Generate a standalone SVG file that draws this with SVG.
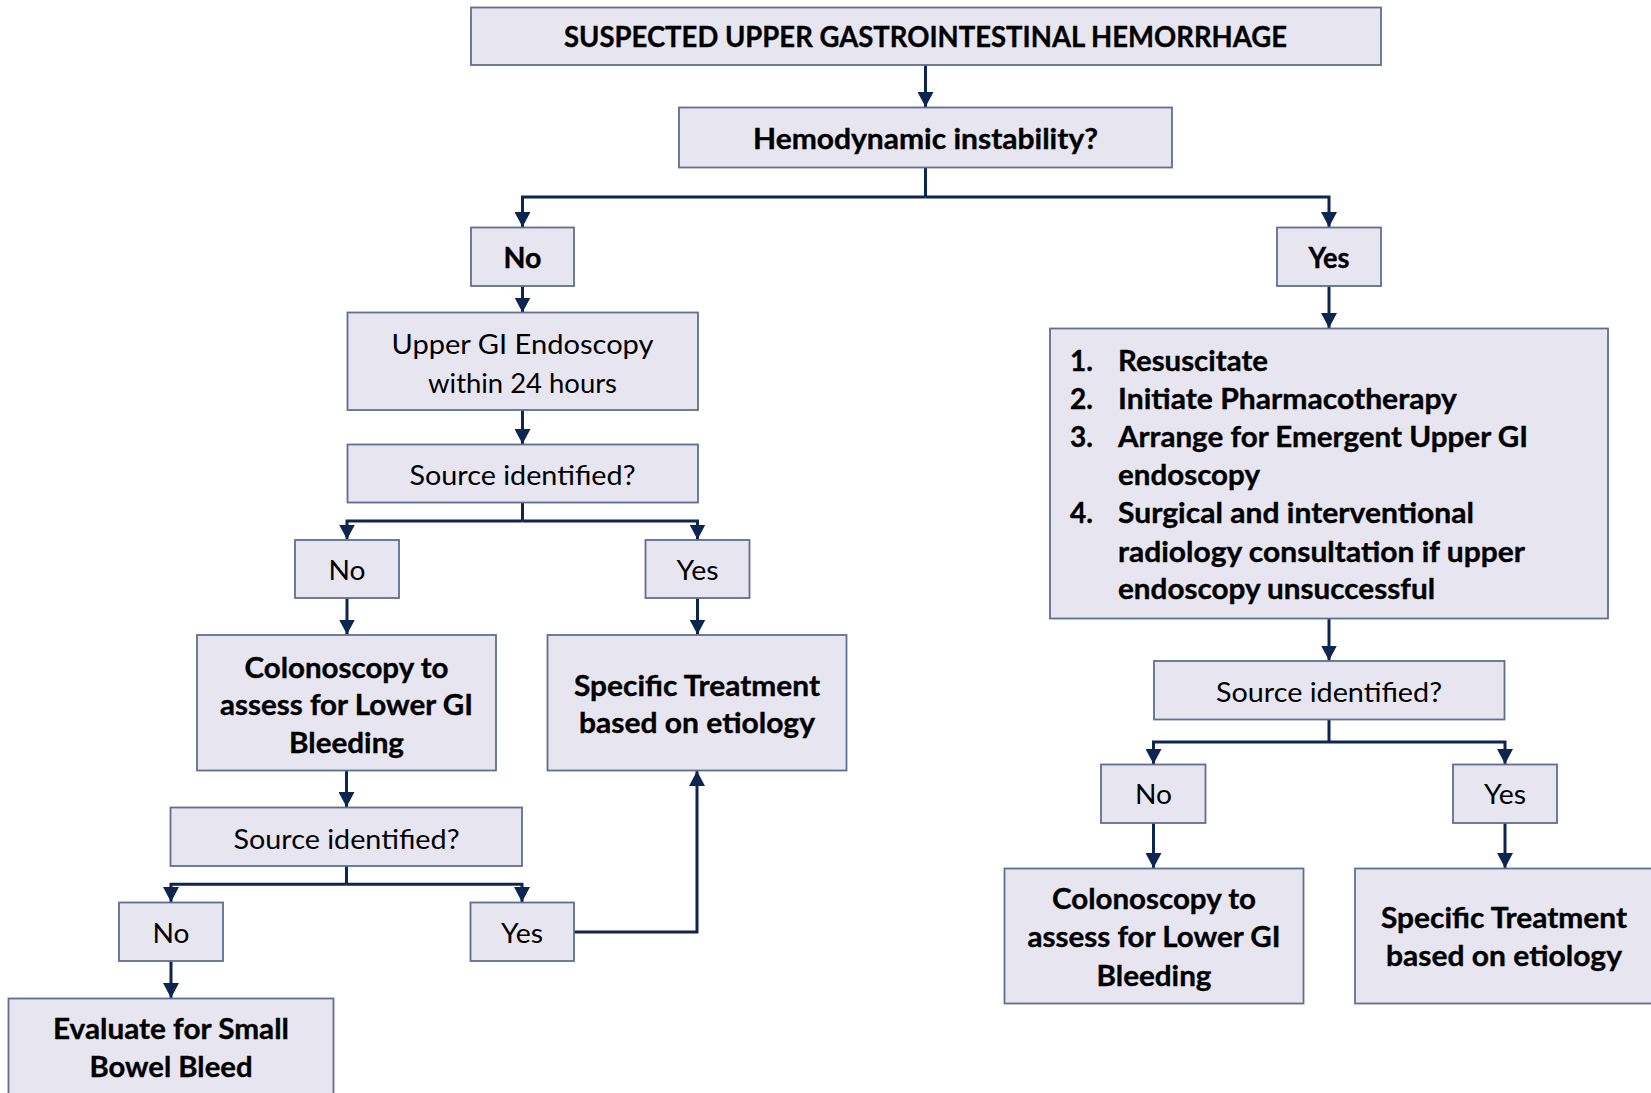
<svg xmlns="http://www.w3.org/2000/svg" width="1651" height="1093" viewBox="0 0 1651 1093">
<defs>
<marker id="ah" viewBox="0 0 15 16" refX="15" refY="8" markerWidth="15" markerHeight="16" markerUnits="userSpaceOnUse" orient="auto">
<path d="M0,0 L15,8 L0,16 z" fill="#0d2550"/>
</marker>
<style>
.box{fill:#e7e5f0;stroke:#5f6f8c;stroke-width:1.8}
.b{font-family:Lato,"Liberation Sans",sans-serif;font-weight:700;font-size:28px;fill:#000;text-anchor:middle;stroke:#000;stroke-width:0.35}
.r{font-family:Lato,"Liberation Sans",sans-serif;font-weight:400;font-size:27px;fill:#000;text-anchor:middle}
.l{font-family:Lato,"Liberation Sans",sans-serif;font-weight:700;font-size:28px;fill:#000;stroke:#000;stroke-width:0.35}
.c{fill:none;stroke:#0d2550;stroke-width:3}
.a{marker-end:url(#ah)}
</style>
</defs>
<rect width="1651" height="1093" fill="#fff"/>
<g id="connectors">
<path class="c a" d="M925.5,65 V107"/>
<path class="c" d="M925.5,168 V197"/>
<path class="c a" d="M925.5,197 H522.5 V227"/>
<path class="c a" d="M925.5,197 H1329 V227"/>
<path class="c a" d="M522.5,286 V312.5"/>
<path class="c a" d="M522.5,410 V444"/>
<path class="c" d="M522.5,502.5 V521"/>
<path class="c a" d="M522.5,521 H347 V539.5"/>
<path class="c a" d="M522.5,521 H697.5 V539.5"/>
<path class="c a" d="M347,598 V634.5"/>
<path class="c a" d="M697.5,598 V634.5"/>
<path class="c a" d="M346.5,770.5 V807"/>
<path class="c" d="M346.5,866 V884.3"/>
<path class="c a" d="M346.5,884.3 H171 V902"/>
<path class="c a" d="M346.5,884.3 H522 V902"/>
<path class="c a" d="M574,932 H697 V771"/>
<path class="c a" d="M171,961 V998"/>
<path class="c a" d="M1329,286 V328"/>
<path class="c a" d="M1329,618.5 V660.5"/>
<path class="c" d="M1329,719.5 V742"/>
<path class="c a" d="M1329,742 H1153.5 V764"/>
<path class="c a" d="M1329,742 H1505 V764"/>
<path class="c a" d="M1153.5,823 V868"/>
<path class="c a" d="M1505,823 V868"/>
</g>
<g id="n-suspected">
<rect class="box" x="471" y="7.5" width="910" height="57.5"/>
<text class="b" x="925.5" y="47" font-size="26" textLength="723" lengthAdjust="spacingAndGlyphs">SUSPECTED UPPER GASTROINTESTINAL HEMORRHAGE</text>
</g>
<g id="n-hemodynamic">
<rect class="box" x="679" y="107.5" width="493" height="60"/>
<text class="b" x="925.5" y="149" textLength="345" lengthAdjust="spacingAndGlyphs">Hemodynamic instability?</text>
</g>
<g id="n-no-top">
<rect class="box" x="471" y="227.5" width="103" height="58.5"/>
<text class="b" x="522.5" y="268" textLength="38" lengthAdjust="spacingAndGlyphs">No</text>
</g>
<g id="n-yes-top">
<rect class="box" x="1277" y="227.5" width="104" height="58.5"/>
<text class="b" x="1329" y="268" textLength="41" lengthAdjust="spacingAndGlyphs">Yes</text>
</g>
<g id="n-upper-gi">
<rect class="box" x="347.5" y="312.5" width="350.5" height="97.5"/>
<text class="r" x="522.5" y="354" textLength="262" lengthAdjust="spacingAndGlyphs">Upper GI Endoscopy</text>
<text class="r" x="522.5" y="393" textLength="189" lengthAdjust="spacingAndGlyphs">within 24 hours</text>
</g>
<g id="n-source1">
<rect class="box" x="347.5" y="444.5" width="350.5" height="58"/>
<text class="r" x="522.5" y="485" textLength="226" lengthAdjust="spacingAndGlyphs">Source identified?</text>
</g>
<g id="n-no1">
<rect class="box" x="295" y="540" width="104" height="58"/>
<text class="r" x="347" y="580" textLength="37" lengthAdjust="spacingAndGlyphs">No</text>
</g>
<g id="n-yes1">
<rect class="box" x="645.5" y="540" width="104" height="58"/>
<text class="r" x="697.5" y="580" textLength="42" lengthAdjust="spacingAndGlyphs">Yes</text>
</g>
<g id="n-colon-left">
<rect class="box" x="197" y="635" width="299" height="135.5"/>
<text class="b" x="346.5" y="678" textLength="204" lengthAdjust="spacingAndGlyphs">Colonoscopy to</text>
<text class="b" x="346.5" y="715" textLength="253" lengthAdjust="spacingAndGlyphs">assess for Lower GI</text>
<text class="b" x="346.5" y="753" textLength="115" lengthAdjust="spacingAndGlyphs">Bleeding</text>
</g>
<g id="n-specific-left">
<rect class="box" x="547.5" y="635" width="299" height="135.5"/>
<text class="b" x="697" y="696" textLength="246" lengthAdjust="spacingAndGlyphs">Specific Treatment</text>
<text class="b" x="697" y="733" textLength="236" lengthAdjust="spacingAndGlyphs">based on etiology</text>
</g>
<g id="n-source2">
<rect class="box" x="170.5" y="807.5" width="351.5" height="58.5"/>
<text class="r" x="346.5" y="849" textLength="226" lengthAdjust="spacingAndGlyphs">Source identified?</text>
</g>
<g id="n-no2">
<rect class="box" x="119" y="902.5" width="104" height="58.5"/>
<text class="r" x="171" y="943" textLength="37" lengthAdjust="spacingAndGlyphs">No</text>
</g>
<g id="n-yes2">
<rect class="box" x="470.5" y="902.5" width="103.5" height="58.5"/>
<text class="r" x="522" y="943" textLength="42" lengthAdjust="spacingAndGlyphs">Yes</text>
</g>
<g id="n-evaluate">
<rect class="box" x="8.5" y="998.5" width="325" height="100"/>
<text class="b" x="171" y="1039" textLength="236" lengthAdjust="spacingAndGlyphs">Evaluate for Small</text>
<text class="b" x="171" y="1077" textLength="163" lengthAdjust="spacingAndGlyphs">Bowel Bleed</text>
</g>
<g id="n-actions">
<rect class="box" x="1050" y="328.5" width="558" height="290"/>
<text class="l" x="1070" y="371">1.</text>
<text class="l" x="1118" y="371" textLength="150" lengthAdjust="spacingAndGlyphs">Resuscitate</text>
<text class="l" x="1070" y="409">2.</text>
<text class="l" x="1118" y="409" textLength="339" lengthAdjust="spacingAndGlyphs">Initiate Pharmacotherapy</text>
<text class="l" x="1070" y="447">3.</text>
<text class="l" x="1118" y="447" textLength="410" lengthAdjust="spacingAndGlyphs">Arrange for Emergent Upper GI</text>
<text class="l" x="1118" y="485" textLength="142" lengthAdjust="spacingAndGlyphs">endoscopy</text>
<text class="l" x="1070" y="523">4.</text>
<text class="l" x="1118" y="523" textLength="356" lengthAdjust="spacingAndGlyphs">Surgical and interventional</text>
<text class="l" x="1118" y="561.5" textLength="407" lengthAdjust="spacingAndGlyphs">radiology consultation if upper</text>
<text class="l" x="1118" y="599" textLength="317" lengthAdjust="spacingAndGlyphs">endoscopy unsuccessful</text>
</g>
<g id="n-source3">
<rect class="box" x="1154" y="661" width="350.5" height="58.5"/>
<text class="r" x="1329" y="702" textLength="226" lengthAdjust="spacingAndGlyphs">Source identified?</text>
</g>
<g id="n-no3">
<rect class="box" x="1101" y="764.5" width="104.5" height="58.5"/>
<text class="r" x="1153.5" y="804" textLength="37" lengthAdjust="spacingAndGlyphs">No</text>
</g>
<g id="n-yes3">
<rect class="box" x="1453" y="764.5" width="104" height="58.5"/>
<text class="r" x="1505" y="804" textLength="42" lengthAdjust="spacingAndGlyphs">Yes</text>
</g>
<g id="n-colon-right">
<rect class="box" x="1004.5" y="868.5" width="299" height="135"/>
<text class="b" x="1154" y="909" textLength="204" lengthAdjust="spacingAndGlyphs">Colonoscopy to</text>
<text class="b" x="1154" y="947" textLength="253" lengthAdjust="spacingAndGlyphs">assess for Lower GI</text>
<text class="b" x="1154" y="986" textLength="115" lengthAdjust="spacingAndGlyphs">Bleeding</text>
</g>
<g id="n-specific-right">
<rect class="box" x="1355" y="868.5" width="300" height="135"/>
<text class="b" x="1504" y="928" textLength="246" lengthAdjust="spacingAndGlyphs">Specific Treatment</text>
<text class="b" x="1504" y="966" textLength="236" lengthAdjust="spacingAndGlyphs">based on etiology</text>
</g>
</svg>
